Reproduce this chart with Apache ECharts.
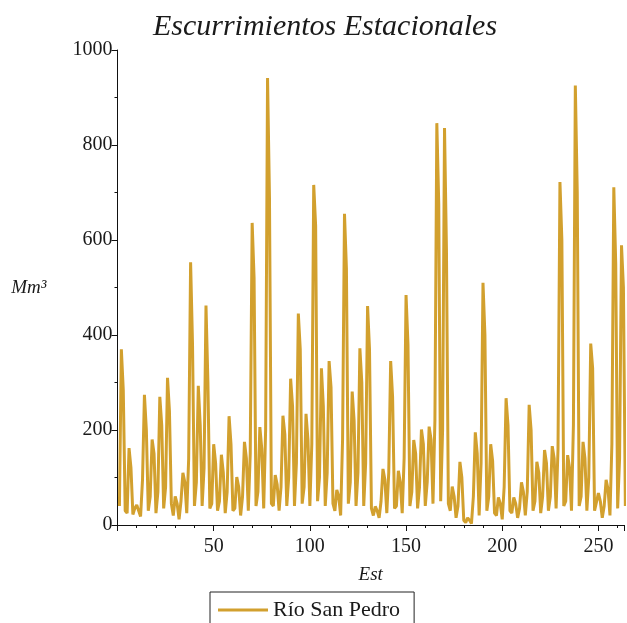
<!DOCTYPE html>
<html>
<head>
<meta charset="utf-8">
<script src="https://cdn.jsdelivr.net/npm/echarts@6/dist/echarts.min.js"></script>
<style>
  html, body { margin: 0; padding: 0; background: #fff; }
  #chart { width: 627px; height: 623px; }
</style>
</head>
<body>
<div id="chart"></div>
<script>
// Seasonal runoff (Mm3), four seasons per year, stations numbered from 1
const titulo = 'Escurrimientos Estacionales';
const nombreSerie = 'Río San Pedro';
const etiquetaX = 'Est';
const etiquetaY = 'Mm³';

const escurrimientos = [
  40, 370, 284, 30,   25, 162, 120, 22,   35, 42, 38, 18,    95, 274, 200, 30,
  60, 180, 150, 25,   70, 270, 210, 35,   80, 310, 240, 45,  20, 60, 45, 12,
  50, 110, 90, 25,    140, 553, 380, 40,  90, 293, 210, 40,  120, 462, 300, 35,
  45, 170, 130, 30,   50, 148, 110, 25,   70, 229, 170, 30,  35, 101, 80, 20,
  60, 175, 140, 30,   150, 636, 520, 40,  70, 206, 160, 35,  200, 941, 690, 45,
  40, 105, 85, 30,    80, 230, 190, 40,   100, 308, 250, 40, 130, 445, 370, 45,
  80, 234, 180, 40,   170, 716, 630, 50,  100, 330, 250, 40, 110, 345, 290, 45,
  30, 74, 60, 20,     180, 655, 540, 45,  90, 281, 220, 40,  110, 372, 300, 40,
  130, 461, 370, 35,  20, 39, 30, 15,     50, 118, 95, 25,   110, 345, 270, 35,
  40, 114, 90, 25,    140, 484, 380, 40,  70, 179, 150, 35,  80, 201, 170, 40,
  90, 207, 180, 45,   220, 846, 675, 50,  200, 836, 580, 45, 30, 81, 60, 15,
  40, 133, 100, 10,   5, 15, 10, 3,       60, 195, 150, 20,  130, 510, 400, 30,
  60, 170, 135, 25,   20, 58, 45, 12,     80, 267, 210, 30,  25, 58, 45, 15,
  35, 90, 70, 20,     70, 253, 200, 30,   50, 133, 110, 25,  60, 158, 130, 30,
  60, 166, 140, 35,   160, 722, 600, 40,  50, 147, 120, 30,  210, 925, 700, 40,
  60, 175, 140, 30,   100, 382, 330, 30,  30, 67, 50, 15,    40, 95, 75, 20,
  170, 711, 550, 35,  140, 589, 500, 40
];

const ticksX = [50, 100, 150, 200, 250];
const ticksY = [0, 200, 400, 600, 800, 1000];

const puntos = escurrimientos.map((v, i) => [i + 1, v]);

const fuente = 'Liberation Serif, Times New Roman, serif';
const colorLinea = '#D2A02E';

const chart = echarts.init(document.getElementById('chart'), null, { renderer: 'canvas' });
chart.setOption({
  animation: false,
  backgroundColor: '#ffffff',
  title: {
    text: titulo,
    left: 320,
    top: 7,
    textAlign: 'center',
    textStyle: { fontFamily: fuente, fontStyle: 'italic', fontWeight: 'normal', fontSize: 30, color: '#1a1a1a' }
  },
  grid: { left: 117.5, right: 0, top: 50, bottom: 98, containLabel: false },
  legend: {
    data: [nombreSerie],
    left: 210,
    top: 592,
    icon: 'rect',
    itemWidth: 50,
    itemHeight: 3,
    itemGap: 10,
    padding: [7, 14, 14, 8],
    borderColor: '#222',
    borderWidth: 1,
    textStyle: { fontFamily: fuente, fontSize: 22, color: '#1a1a1a' }
  },
  xAxis: {
    type: 'value',
    min: 0,
    max: 263.3,
    interval: 50,
    name: etiquetaX,
    nameLocation: 'middle',
    nameGap: 40,
    nameTextStyle: { fontFamily: fuente, fontStyle: 'italic', fontSize: 19, color: '#1a1a1a' },
    axisLine: { lineStyle: { color: '#111', width: 1 } },
    axisTick: { show: true, length: 6, lineStyle: { color: '#111' } },
    minorTick: { show: true, splitNumber: 5, length: 3, lineStyle: { color: '#111' } },
    splitLine: { show: false },
    axisLabel: {
      fontFamily: fuente, fontSize: 20, color: '#1a1a1a', margin: 12,
      formatter: v => (ticksX.includes(v) ? String(v) : '')
    }
  },
  yAxis: {
    type: 'value',
    min: 0,
    max: 1000,
    interval: 200,
    name: etiquetaY,
    nameLocation: 'middle',
    nameRotate: 0,
    nameGap: 71,
    nameTextStyle: { fontFamily: fuente, fontStyle: 'italic', fontSize: 19, color: '#1a1a1a' },
    axisLine: { show: true, lineStyle: { color: '#111', width: 1 } },
    axisTick: { show: true, length: 6, lineStyle: { color: '#111' } },
    minorTick: { show: true, splitNumber: 2, length: 3, lineStyle: { color: '#111' } },
    splitLine: { show: false },
    axisLabel: {
      fontFamily: fuente, fontSize: 20, color: '#1a1a1a', margin: 5,
      formatter: v => (ticksY.includes(v) ? String(v) : '')
    }
  },
  series: [{
    name: nombreSerie,
    type: 'line',
    data: puntos,
    showSymbol: false,
    symbol: 'none',
    clip: true,
    lineStyle: { color: colorLinea, width: 3 },
    itemStyle: { color: colorLinea }
  }]
});
</script>
</body>
</html>
